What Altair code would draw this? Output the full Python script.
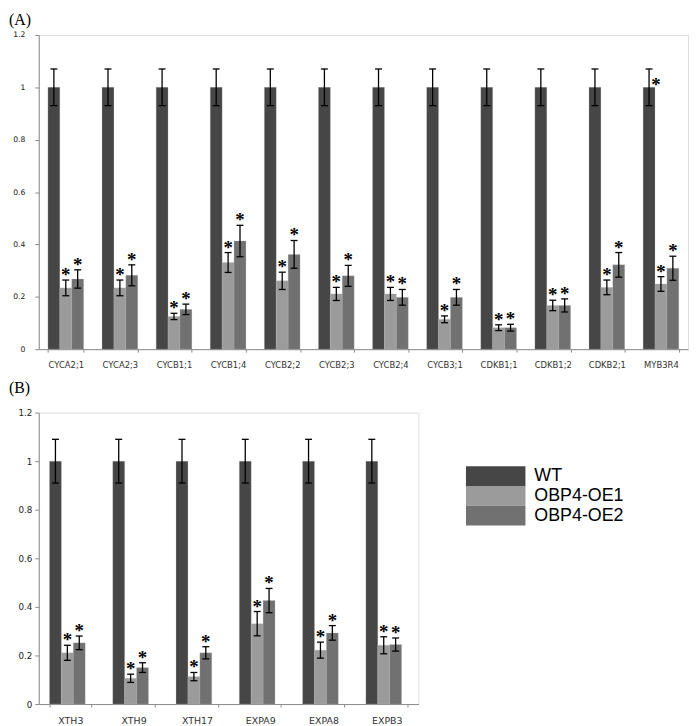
import altair as alt
import pandas as pd

series = ["WT", "OBP4-OE1", "OBP4-OE2"]
colors = ["#464646", "#9b9b9b", "#717171"]

genes_a = ["CYCA2;1", "CYCA2;3", "CYCB1;1", "CYCB1;4", "CYCB2;2", "CYCB2;3",
           "CYCB2;4", "CYCB3;1", "CDKB1;1", "CDKB1;2", "CDKB2;1", "MYB3R4"]
wt_a = [1.0, 1.0, 1.0, 1.0, 1.0, 1.0, 1.0, 1.0, 1.0, 1.0, 1.0, 1.0]
wt_err_a = [0.07, 0.07, 0.07, 0.07, 0.07, 0.07, 0.07, 0.07, 0.07, 0.07, 0.07, 0.07]
oe1_a = [0.234, 0.234, 0.125, 0.331, 0.261, 0.211, 0.211, 0.114, 0.082, 0.167, 0.236, 0.249]
oe1_err_a = [0.03, 0.03, 0.012, 0.038, 0.033, 0.025, 0.025, 0.013, 0.011, 0.02, 0.028, 0.028]
oe2_a = [0.268, 0.282, 0.152, 0.413, 0.362, 0.280, 0.198, 0.198, 0.082, 0.167, 0.322, 0.309]
oe2_err_a = [0.035, 0.04, 0.02, 0.06, 0.053, 0.04, 0.03, 0.03, 0.013, 0.025, 0.047, 0.046]
# significance stars (per series) in panel A
star_wt_a = [0, 0, 0, 0, 0, 0, 0, 0, 0, 0, 0, 1]
star_oe1_a = [1, 1, 1, 1, 1, 1, 1, 1, 1, 1, 1, 1]
star_oe2_a = [1, 1, 1, 1, 1, 1, 1, 1, 1, 1, 1, 1]

genes_b = ["XTH3", "XTH9", "XTH17", "EXPA9", "EXPA8", "EXPB3"]
wt_b = [1.0, 1.0, 1.0, 1.0, 1.0, 1.0]
wt_err_b = [0.09, 0.09, 0.09, 0.09, 0.09, 0.09]
oe1_b = [0.211, 0.106, 0.113, 0.331, 0.222, 0.242]
oe1_err_b = [0.031, 0.017, 0.017, 0.05, 0.033, 0.035]
oe2_b = [0.252, 0.150, 0.211, 0.426, 0.293, 0.245]
oe2_err_b = [0.028, 0.02, 0.025, 0.05, 0.03, 0.027]
star_wt_b = [0, 0, 0, 0, 0, 0]
star_oe1_b = [1, 1, 1, 1, 1, 1]
star_oe2_b = [1, 1, 1, 1, 1, 1]

y_ticks = [0, 0.2, 0.4, 0.6, 0.8, 1.0, 1.2]


def make_df(genes, vals, errs, stars):
    rows = []
    for i, g in enumerate(genes):
        for s, v, e, st in zip(series, vals, errs, stars):
            rows.append(dict(gene=g, series=s, value=v[i], lo=v[i] - e[i],
                             hi=v[i] + e[i], star=st[i]))
    return pd.DataFrame(rows)


df_a = make_df(genes_a, [wt_a, oe1_a, oe2_a], [wt_err_a, oe1_err_a, oe2_err_a],
               [star_wt_a, star_oe1_a, star_oe2_a])
df_b = make_df(genes_b, [wt_b, oe1_b, oe2_b], [wt_err_b, oe1_err_b, oe2_err_b],
               [star_wt_b, star_oe1_b, star_oe2_b])


def panel(df, genes, w, h, title, title_off, xlab, ylab, ylab_pad, xlab_pad, yext, legend):
    x = alt.X("gene:N", sort=genes, title=None,
              scale=alt.Scale(paddingInner=0.34, paddingOuter=0.17),
              axis=alt.Axis(labelAngle=0, tickBand="extent", labelFontSize=xlab,
                            labelFont="DejaVu Sans", labelColor="#333333",
                            domainColor="#8c8c8c", tickColor="#8c8c8c", tickSize=3,
                            labelPadding=xlab_pad, grid=False))
    yscale = alt.Scale(domain=[0, 1.2], nice=False)
    yaxis = alt.Axis(values=y_ticks, format="~g", labelFontSize=ylab,
                     labelFont="DejaVu Sans", labelColor="#222222",
                     domainColor="#8c8c8c", tickColor="#8c8c8c", tickSize=4,
                     labelPadding=ylab_pad, grid=False,
                     minExtent=yext, maxExtent=yext)
    xo = alt.XOffset("series:N", sort=series,
                     scale=alt.Scale(paddingInner=0, paddingOuter=0))
    color = alt.Color("series:N", sort=series,
                      scale=alt.Scale(domain=series, range=colors), legend=legend)
    base = alt.Chart(df)
    bars = base.mark_bar(stroke="#bdbdbd", strokeWidth=0.4, strokeOpacity=0.6).encode(
        x=x, xOffset=xo, y=alt.Y("value:Q", scale=yscale, axis=yaxis, title=None),
        color=color)
    rule = base.mark_rule(color="black", strokeWidth=1.3).encode(
        x=x, xOffset=xo, y=alt.Y("lo:Q", scale=yscale, title=None), y2="hi:Q")
    cap_hi = base.mark_tick(color="black", size=7, thickness=1.3, opacity=1).encode(
        x=x, xOffset=xo, y=alt.Y("hi:Q", scale=yscale, title=None))
    cap_lo = base.mark_tick(color="black", size=7, thickness=1.3, opacity=1).encode(
        x=x, xOffset=xo, y=alt.Y("lo:Q", scale=yscale, title=None))
    stars_oe = base.transform_filter("datum.star == 1 && datum.series != 'WT'").mark_text(
        text="*", font="Liberation Serif", fontWeight="bold", fontSize=19,
        baseline="alphabetic", dy=1, color="black").encode(
        x=x, xOffset=xo, y=alt.Y("hi:Q", scale=yscale, title=None))
    stars_wt = base.transform_filter("datum.star == 1 && datum.series == 'WT'").mark_text(
        text="*", font="Liberation Serif", fontWeight="bold", fontSize=19,
        baseline="alphabetic", dx=7, dy=4, color="black").encode(
        x=x, xOffset=xo, y=alt.Y("value:Q", scale=yscale, title=None))
    return alt.layer(bars, rule, cap_hi, cap_lo, stars_oe, stars_wt).properties(
        width=w, height=h,
        title=alt.TitleParams(title, anchor="start", frame="bounds",
                              font="Liberation Serif", fontSize=16,
                              fontWeight="normal", color="black", offset=title_off))


legend_b = alt.Legend(orient="none", legendX=431, legendY=54, title=None,
                      symbolType="M-1,-1H5V1H-1Z", symbolSize=400,
                      symbolStrokeWidth=0, symbolOpacity=1,
                      labelFontSize=18, labelFont="Liberation Sans",
                      labelColor="black", rowPadding=0, labelOffset=49)

chart_a = panel(df_a, genes_a, 655, 317, "(A)", 3, 8.5, 7.7, 10, 8, 30, None)
chart_b = panel(df_b, genes_b, 383, 294, "(B)", 13, 9.5, 8.8, 3, 9, 30, legend_b)

chart = alt.vconcat(chart_a, chart_b, spacing=10).resolve_legend(
    color="independent").properties(
    padding={"left": 0, "top": 0, "right": 0, "bottom": 0}
).configure_view(stroke=None).configure(background="white")

chart.save("out.html", embed_options={"renderer": "svg", "actions": False})
